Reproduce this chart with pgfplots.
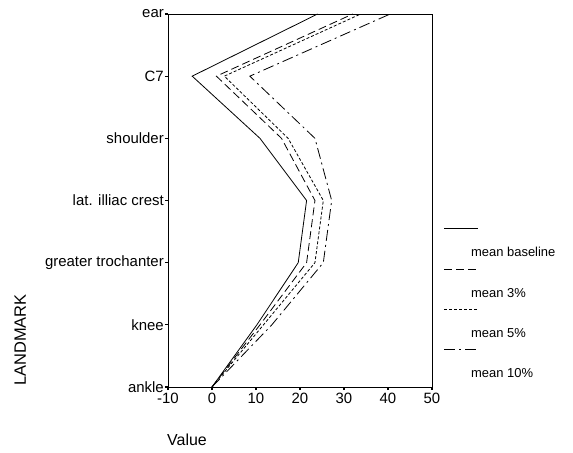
\documentclass[border=0pt]{standalone}
\usepackage{fontspec}
\setmainfont{Liberation Sans}
\setsansfont{Liberation Sans}
\usepackage{pgfplots}
\usepackage{pgfplotstable}
\pgfplotsset{compat=1.18}

% landmark position (0 = ankle ... 6 = ear) and mean values
\pgfplotstableread{
pos baseline p3   p5   p10
0   0.0      0.0  0.0  0.0
1   10.2     10.9 11.7 13.6
2   19.6     21.5 23.4 25.3
3   21.5     23.4 25.3 27.2
4   10.9     15.8 17.3 23.4
5   -4.5     1.0  2.8  8.6
6   24.0     32.0 33.8 40.5
}\landmarks

\begin{document}
\begin{tikzpicture}
\begin{axis}[
    name=ax,
    scale only axis,
    width=264bp, height=373bp,
    xmin=-10, xmax=50,
    ymin=0, ymax=6,
    clip=false,
    xtick={-10,0,...,50},
    ytick={0,...,6},
    yticklabels={ankle,knee,greater trochanter,lat. illiac crest,shoulder,C7,ear},
    tick align=outside,
    xtick pos=bottom, ytick pos=left,
    major tick length=3bp,
    tick style={black, line width=1.2bp},
    axis line style={line width=0.8bp},
    ticklabel style={font=\fontsize{15}{17}\selectfont},
    yticklabel style={inner xsep=1bp},
    /pgf/number format/assume math mode=true,
    legend style={at={(axis description cs:1.034,0.43)}, anchor=north west,
        draw=none, fill=none, font=\fontsize{13}{15}\selectfont,
        row sep=9bp, cells={anchor=west}},
    legend image code/.code={
        \path[draw=none] (0bp,0bp) rectangle (25bp,24bp);
        \draw[#1, overlay] (0bp,24bp) -- (34bp,24bp);},
    every axis plot/.append style={black, no marks, line width=0.8bp},
]
    \addplot[solid] table[x=baseline, y=pos] {\landmarks};
    \addlegendentry{mean baseline}
    \addplot[dash pattern=on 8bp off 4bp] table[x=p3, y=pos] {\landmarks};
    \addlegendentry{mean 3\%}
    \addplot[dash pattern=on 3bp off 2bp] table[x=p5, y=pos] {\landmarks};
    \addlegendentry{mean 5\%}
    \addplot[dash pattern=on 11bp off 4bp on 2bp off 4bp] table[x=p10, y=pos] {\landmarks};
    \addlegendentry{mean 10\%}

    \node[rotate=90, font=\fontsize{16.5}{18}\selectfont] at (axis description cs:-0.56,0.126) {LANDMARK};
    \node[font=\fontsize{16}{18}\selectfont] at (axis description cs:0.072,-0.142) {Value};
\end{axis}
\path (ax.south west) ++(-168bp,-66bp) rectangle ++(573bp,453bp);
\end{tikzpicture}
\end{document}
